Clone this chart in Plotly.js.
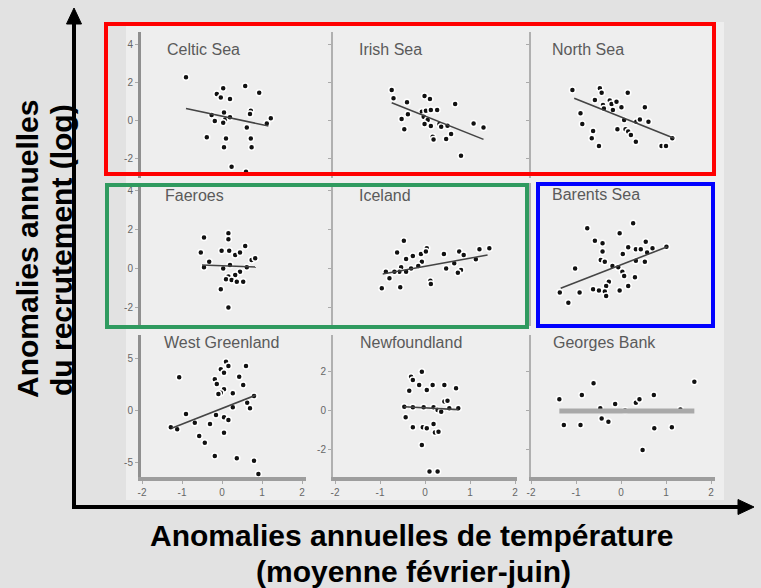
<!DOCTYPE html>
<html><head><meta charset="utf-8">
<script src="https://cdn.plot.ly/plotly-3.0.1.min.js"></script>
<style>html,body{margin:0;padding:0;background:#e2e2e2;}#chart{width:761px;height:588px;}</style>
</head><body><div id="chart"></div>
<script>
// ---- data ----
const panelNames = ["Celtic Sea","Irish Sea","North Sea","Faeroes","Iceland","Barents Sea","West Greenland","Newfoundland","Georges Bank"];
const xTickVals = [-2,-1,0,1,2];
const xTickText = ["-2","-1","0","1","2"];

const celticX = [-0.9,0.03,-0.13,-0.03,0.2,0.58,0.93,0.72,0.7,0.05,-0.26,-0.18,0.08,0.03,0.2,0.62,1.22,1.12,-0.38,0.1,0.72,0.05,0.74,0.24,0.6];
const celticY = [2.25,1.67,1.37,1.19,1.1,1.79,1.44,0.49,0.32,0.39,0.26,-0.05,0.03,-0.14,0.14,-0.39,0.09,-0.18,-0.91,-0.98,-0.98,-1.44,-1.44,-2.46,-2.72];
const celticFitX = [-0.9,1.16], celticFitY = [0.61,-0.32];

const irishX = [-0.74,-0.7,-0.4,-0.01,0.11,0.67,-0.52,-0.46,-0.38,-0.07,0.02,0.13,0.27,-0.03,0.06,0.13,-0.01,0.32,0.36,0.5,0.58,0.47,0.17,0.19,1.08,1.3,0.8];
const irishY = [1.58,1.14,0.93,1.26,1.1,0.84,0.05,-0.49,0.3,0.44,0.49,0.53,0.53,0.17,0,-0.32,-0.21,-0.21,-0.35,-0.3,-0.74,-1.0,-0.88,-1.02,-0.18,-0.39,-1.88];
const irishFitX = [-0.74,1.3], irishFitY = [0.91,-1.02];

const northX = [-1.08,-0.47,-0.43,-0.58,-0.25,-0.21,-0.1,-0.4,-0.38,-0.18,0.01,0.15,0.53,-0.9,-0.86,-0.62,-0.65,-0.49,-0.08,0.07,0.1,0.16,0.22,0.33,0.34,0.42,0.61,0.9,1.0,1.14];
const northY = [1.58,1.67,1.44,1.05,1.02,0.84,0.96,0.79,0.61,0.53,0.67,1.44,0.67,0.35,-0.21,-0.58,-0.96,-1.37,-0.49,0,-0.49,-0.61,-0.79,-1.14,-0.09,0.03,-0.09,-1.37,-1.37,-0.96];
const northFitX = [-1.04,1.18], northFitY = [1.14,-0.96];

const faeroesX = [-0.45,0.16,0.16,-0.53,-0.01,0.18,0.33,0.45,0.58,-0.32,-0.45,0.03,0.2,0.74,0.83,0.62,0.45,0.33,0.16,0.1,0.24,0.37,0.53,-0.03,0.16];
const faeroesY = [1.57,1.78,1.47,0.79,0.89,0.89,0.67,0.79,1.13,0.32,0.04,-0.02,0.15,0.41,0.5,0.04,-0.19,-0.36,-0.44,-0.58,-0.62,-0.7,-0.7,-1.09,-2.02];
const faeroesFitX = [-0.5,0.85], faeroesFitY = [0.15,0.05];

const icelandX = [-0.47,-0.62,-0.42,-0.27,-0.09,0.04,0.02,0.42,0.76,0.86,1.21,1.43,1.13,0.65,0.47,0.8,0.73,-0.07,-0.15,-0.31,-0.42,-0.53,-0.57,-0.68,-0.79,-0.96,-0.55,0.12,0.13,-0.87];
const icelandY = [1.4,0.79,0.46,0.62,0.72,1.01,0.84,0.72,0.84,0.67,0.96,1.01,0.45,0.24,-0.02,-0.1,-0.24,0.32,0.1,-0.02,-0.19,0.04,-0.19,-0.19,-0.53,-1.04,-0.99,-0.65,-0.82,-0.19];
const icelandFitX = [-0.94,1.39], icelandFitY = [-0.31,0.67];

const barentsX = [-0.75,-0.03,0.27,-0.58,-0.41,-0.41,-0.45,-0.36,0.04,0.16,0.33,0.44,0.55,0.58,0.7,1.01,0.33,0.53,-1.02,-0.19,-0.06,0.03,0.07,0.31,-0.27,-0.33,0.16,-0.62,-0.49,-0.36,-0.33,-0.03,-0.92,-1.36,-1.17];
const barentsY = [2.04,1.78,2.29,1.4,1.27,0.84,0.41,0.32,0.72,1.06,0.96,0.96,1.35,0.79,1.01,1.09,0.37,0.32,-0.02,0.1,0.04,-0.19,-0.41,-0.48,-0.7,-0.92,-0.92,-1.09,-1.16,-1.21,-1.44,-1.16,-1.26,-1.26,-1.78];
const barentsFitX = [-1.34,1.03], barentsFitY = [-1.04,1.09];

const wgreenX = [-1.07,0.1,0.16,-0.03,0.05,0.6,0.43,-0.18,-0.13,0.53,0.05,-0.03,-0.09,0.27,0.8,0.63,0.7,0.27,-0.15,0.05,0.16,-0.3,-0.9,-0.68,-1.28,-1.12,0.05,-0.57,-0.43,-0.18,0.37,0.8,0.91];
const wgreenY = [3.14,4.64,4.23,3.91,3.59,4.23,3.2,2.95,2.5,2.4,1.99,1.66,1.54,1.6,1.35,0.7,0.16,0.26,-0.48,-0.7,-0.96,-1.35,-0.38,-1.22,-1.66,-1.86,-2.18,-2.5,-3.14,-4.42,-4.65,-4.88,-6.15];
const wgreenFitX = [-1.26,0.85], wgreenFitY = [-1.76,1.44];

const newfX = [-0.31,-0.27,-0.07,-0.13,-0.35,0.04,0.17,0.43,0.69,-0.46,-0.27,-0.03,0.19,0.28,0.36,0.43,0.5,0.54,0.74,-0.43,-0.27,-0.05,0.04,0.19,0.22,0.3,-0.07,0.1,0.28];
const newfY = [1.71,1.54,1.96,1.28,0.99,1.03,1.28,1.28,1.11,0.17,0.14,0.14,0.14,0,-0.09,0.43,0.48,0.09,0.09,-0.37,-0.89,-0.89,-0.94,-0.72,-1.16,-1.11,-1.79,-3.16,-3.16];
const newfFitX = [-0.46,0.74], newfFitY = [0.17,0.02];

const georgesX = [-1.37,-1.27,-0.9,-0.87,-0.61,-0.46,-0.43,-0.28,-0.13,0.09,0.33,0.41,0.73,0.74,1.13,1.32,1.63,0.48];
const georgesY = [0.55,-0.77,-0.77,0.77,1.37,0.09,-0.43,-0.6,0.31,-0.03,0.37,0.55,0.77,-0.94,-0.89,0.03,1.45,-2.05];
const georgesFitX = [-1.37,1.63], georgesFitY = [-0.05,-0.05];

const yTickVals = [[4,2,0,-2],[4,2,0,-2],[4,2,0,-2],[4,2,0,-2],[4,2,0,-2],[4,2,0,-2],[5,0,-5],[2,0,-2],[2,0,-2]];

// ---- layout helpers ----
const W = 761, H = 588;
const px = v => v / W;
const py = v => 1 - v / H;

const series = [
  [celticX, celticY, celticFitX, celticFitY],
  [irishX, irishY, irishFitX, irishFitY],
  [northX, northY, northFitX, northFitY],
  [faeroesX, faeroesY, faeroesFitX, faeroesFitY],
  [icelandX, icelandY, icelandFitX, icelandFitY],
  [barentsX, barentsY, barentsFitX, barentsFitY],
  [wgreenX, wgreenY, wgreenFitX, wgreenFitY],
  [newfX, newfY, newfFitX, newfFitY],
  [georgesX, georgesY, georgesFitX, georgesFitY]
];

const cols = [
  {l:141, r:306, z:222, s:40},
  {l:333, r:517, z:425, s:45},
  {l:531, r:715, z:621, s:45}
];
const rows = [
  {t:32, b:178, z:120},
  {t:183, b:326, z:268},
  {t:335, b:477, z:410}
];
const ySc = [19,19,19,19.5,19.5,19.5,10.4,19.5,19.5];
const yLabeled = [true,false,false,true,false,false,true,true,false];
const titlePos = [[165,49],[357,50],[550,50],[163,196],[357,196],[550,194],[162,342],[358,342],[551,342]];

const traces = [];
const layout = {
  width: W, height: H,
  margin: {l:0, r:0, t:0, b:0},
  paper_bgcolor: '#e2e2e2',
  plot_bgcolor: 'rgba(0,0,0,0)',
  showlegend: false,
  font: {family: 'Liberation Sans, Arial, sans-serif'},
  shapes: [], annotations: []
};

series.forEach((s, i) => {
  const c = cols[i % 3], r = rows[Math.floor(i / 3)];
  const n = i + 1;
  const xa = 'x' + (n === 1 ? '' : n), ya = 'y' + (n === 1 ? '' : n);
  const bottom = i >= 6;
  traces.push({
    type: 'scatter', mode: 'markers', x: s[0], y: s[1], xaxis: xa, yaxis: ya,
    marker: {size: 6, color: '#111', line: {color: '#ffffff', width: 1.5}},
    hoverinfo: 'skip'
  });
  traces.push({
    type: 'scatter', mode: 'lines', x: s[2], y: s[3], xaxis: xa, yaxis: ya,
    line: i === 8 ? {color: '#a9a9a9', width: 5} : {color: '#444', width: 1.6},
    hoverinfo: 'skip'
  });
  layout['xaxis' + (n === 1 ? '' : n)] = {
    domain: [px(c.l), px(c.r)],
    range: [(c.l - c.z) / c.s, (c.r - c.z) / c.s],
    anchor: ya, showgrid: false, zeroline: false,
    showline: bottom, linecolor: '#9d9d9d', linewidth: 4,
    ticks: bottom ? 'outside' : '', ticklen: 3, tickcolor: '#aaa',
    tickvals: xTickVals, ticktext: xTickText,
    showticklabels: bottom, tickfont: {size: 10, color: '#666'}
  };
  const sc = ySc[i];
  layout['yaxis' + (n === 1 ? '' : n)] = {
    domain: [py(r.b), py(r.t)],
    range: [(r.z - r.b) / sc, (r.z - r.t) / sc],
    anchor: xa, showgrid: false, zeroline: false,
    showline: true, linecolor: i % 3 === 0 ? '#8f8f8f' : '#b0b0b0', linewidth: i % 3 === 0 ? 3 : 2,
    ticks: 'outside', ticklen: 3, tickcolor: '#aaa',
    tickvals: yTickVals[i], ticktext: yTickVals[i].map(v => String(v)),
    showticklabels: yLabeled[i], tickfont: {size: 10, color: '#666'}
  };
  layout.annotations.push({
    text: panelNames[i], xref: 'paper', yref: 'paper',
    x: px(titlePos[i][0]), y: py(titlePos[i][1]), xanchor: 'left', yanchor: 'middle',
    showarrow: false, font: {size: 16, color: '#5a5a5a', family: 'Liberation Sans, Arial, sans-serif'}
  });
});

layout.shapes.push({type: 'rect', layer: 'below', xref: 'paper', yref: 'paper',
  x0: px(126), x1: px(724), y0: py(500), y1: py(22), fillcolor: '#eeeeee', line: {width: 0}});
const frame = (x0, y0, x1, y1, col) => ({type: 'rect', xref: 'paper', yref: 'paper',
  x0: px(x0), x1: px(x1), y0: py(y1), y1: py(y0), line: {color: col, width: 4}, fillcolor: 'rgba(0,0,0,0)'});
layout.shapes.push(frame(106, 24, 714, 174, '#ff0000'));
layout.shapes.push(frame(107, 185, 527, 327, '#2f9a5f'));
layout.shapes.push(frame(538, 184, 713, 326, '#0000ff'));
layout.shapes.push({type: 'line', xref: 'paper', yref: 'paper', x0: px(74), x1: px(74), y0: py(507), y1: py(18), line: {color: '#000', width: 4}});
layout.shapes.push({type: 'line', xref: 'paper', yref: 'paper', x0: px(72), x1: px(742), y0: py(507), y1: py(507), line: {color: '#000', width: 4}});
layout.shapes.push({type: 'path', xref: 'paper', yref: 'paper',
  path: `M ${px(74)} ${py(8)} L ${px(66.5)} ${py(24)} L ${px(81.5)} ${py(24)} Z`, fillcolor: '#000', line: {color: '#000', width: 1}});
layout.shapes.push({type: 'path', xref: 'paper', yref: 'paper',
  path: `M ${px(754)} ${py(507)} L ${px(738)} ${py(499.5)} L ${px(738)} ${py(514.5)} Z`, fillcolor: '#000', line: {color: '#000', width: 1}});

const big = {size: 30, color: '#000', family: 'Liberation Sans, Arial, sans-serif'};
const ann = (t, x, y, ang) => ({text: '<b>' + t + '</b>', xref: 'paper', yref: 'paper', x: px(x), y: py(y),
  xanchor: 'center', yanchor: 'middle', showarrow: false, textangle: ang, font: big});
layout.annotations.push(ann('Anomalies annuelles', 27, 249, -90));
layout.annotations.push(ann('du recrutement (log)', 62, 250, -90));
layout.annotations.push(ann('Anomalies annuelles de température', 412, 535, 0));
layout.annotations.push(ann('(moyenne février-juin)', 413, 571, 0));

Plotly.newPlot('chart', traces, layout, {staticPlot: true, displayModeBar: false});
</script></body></html>
